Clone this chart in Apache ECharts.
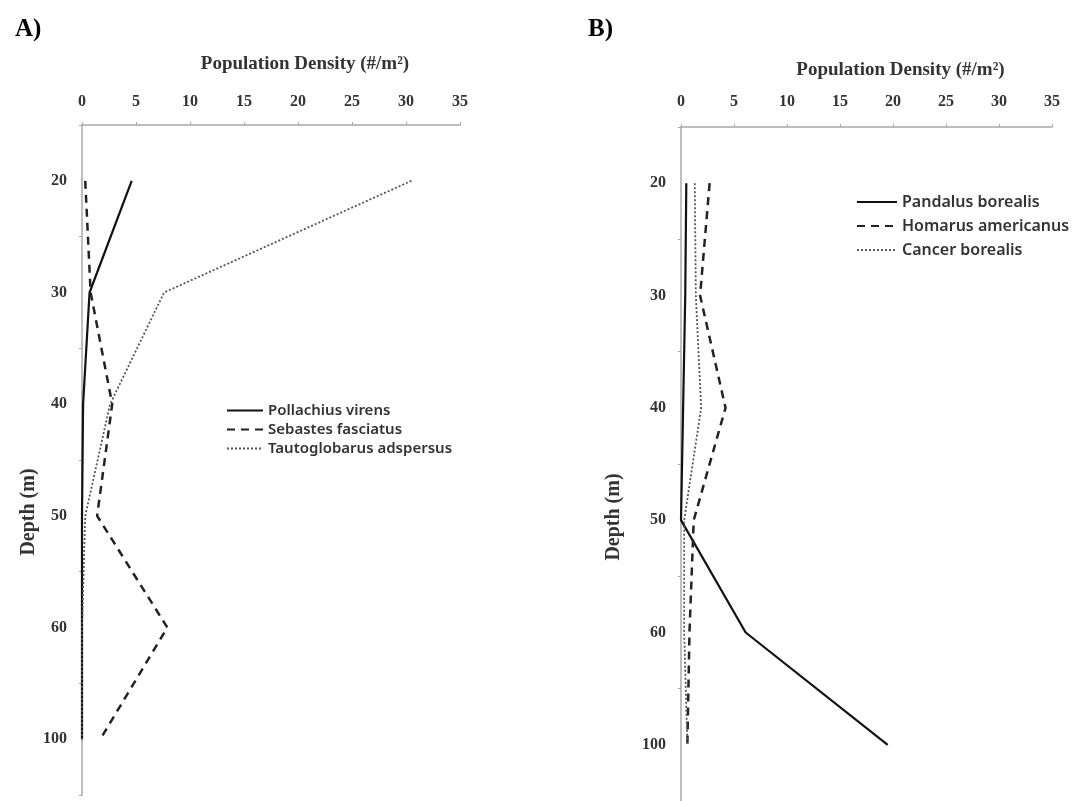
<!DOCTYPE html>
<html>
<head>
<meta charset="utf-8">
<script src="https://cdn.jsdelivr.net/npm/echarts@6/dist/echarts.min.js"></script>
<style>
    html, body { margin: 0; padding: 0; background: #fff; }
    #main { width: 1081px; height: 801px; }
</style>
</head>
<body>
<div id="main"></div>
<script>
// depth categories (m), shared by both panels
var depths = ['20', '30', '40', '50', '60', '100']
var xTicks = [0, 5, 10, 15, 20, 25, 30, 35]

// panel A - fish
var pollachius = [4.6, 0.7, 0.1, 0, 0, 0]
var sebastes = [0.3, 0.8, 2.8, 1.4, 7.9, 1.7]
var tautoglobarus = [30.5, 7.6, 2.6, 0.3, 0, 0]

// panel B - crustaceans
var pandalus = [0.5, 0.4, 0.2, 0, 6.1, 19.5]
var homarus = [2.7, 1.8, 4.2, 1.2, 0.8, 0.6]
var cancer = [1.3, 1.4, 1.9, 0.3, 0.3, 0.6]

var serif = 'Liberation Serif'
var axisGray = '#a8a8a8'
var textCol = '#333'

var myChart = echarts.init(document.getElementById('main'))

function xAxisOpt(gridIndex, gap, labelMargin) {
    return {
        type: 'value',
        gridIndex: gridIndex,
        position: 'top',
        min: xTicks[0],
        max: xTicks[xTicks.length - 1],
        interval: 5,
        name: 'Population Density (#/m²)',
        nameLocation: 'middle',
        nameGap: gap,
        nameTextStyle: {
            fontFamily: serif,
            fontWeight: 'bold',
            fontSize: 19,
            color: textCol,
            padding: [0, 0, 0, 68]
        },
        axisLine: { show: true, lineStyle: { color: axisGray, width: 1.5 } },
        axisTick: { show: true, length: 3, lineStyle: { color: axisGray } },
        axisLabel: {
            margin: labelMargin,
            fontFamily: serif,
            fontWeight: 'bold',
            fontSize: 16,
            color: textCol
        },
        splitLine: { show: false }
    }
}

function yAxisOpt(gridIndex, gap, shift) {
    return {
        type: 'category',
        gridIndex: gridIndex,
        inverse: true,
        data: depths,
        name: 'Depth (m)',
        nameLocation: 'middle',
        nameGap: gap,
        nameRotate: 90,
        nameTextStyle: {
            fontFamily: serif,
            fontWeight: 'bold',
            fontSize: 20,
            color: textCol,
            padding: [0, shift, 0, 0]
        },
        axisLine: { show: true, lineStyle: { color: axisGray, width: 1.5 } },
        axisTick: { show: true, length: 3, lineStyle: { color: axisGray } },
        axisLabel: {
            margin: 15,
            fontFamily: serif,
            fontWeight: 'bold',
            fontSize: 16,
            color: textCol
        },
        splitLine: { show: false }
    }
}

var solid = { color: '#111', width: 2.2, type: 'solid' }
var dashed = { color: '#222', width: 2.5, type: [8, 6] }
var dotted = { color: '#555', width: 1.8, type: [2, 2] }

function lineSeries(name, data, idx, style) {
    return {
        name: name,
        type: 'line',
        xAxisIndex: idx,
        yAxisIndex: idx,
        data: data,
        symbol: 'none',
        smooth: false,
        lineStyle: style,
        itemStyle: { color: style.color }
    }
}

var legendText = {
    fontFamily: 'Noto Sans',
    fontWeight: 600,
    color: textCol
}

var option = {
    animation: false,
    backgroundColor: '#fff',
    title: [
        { text: 'A)', left: 10, top: 12, textStyle: { fontFamily: serif, fontWeight: 'bold', fontSize: 25, color: '#000' } },
        { text: 'B)', left: 583, top: 12, textStyle: { fontFamily: serif, fontWeight: 'bold', fontSize: 25, color: '#000' } }
    ],
    grid: [
        { left: 82, top: 125, width: 378, height: 670 },
        { left: 681, top: 127, width: 371, height: 674 }
    ],
    legend: [
        {
            orient: 'vertical',
            left: 221,
            top: 398,
            itemWidth: 36,
            itemHeight: 14,
            itemGap: 4,
            itemStyle: { opacity: 0 },
            textStyle: Object.assign({ fontSize: 15 }, legendText),
            data: ['Pollachius virens', 'Sebastes fasciatus', 'Tautoglobarus adspersus']
        },
        {
            orient: 'vertical',
            left: 851,
            top: 189,
            itemWidth: 40,
            itemHeight: 16,
            itemGap: 8,
            itemStyle: { opacity: 0 },
            textStyle: Object.assign({ fontSize: 16 }, legendText),
            data: ['Pandalus borealis', 'Homarus americanus', 'Cancer borealis']
        }
    ],
    xAxis: [xAxisOpt(0, 51, 15), xAxisOpt(1, 47, 17)],
    yAxis: [yAxisOpt(0, 38, 104), yAxisOpt(1, 57, 106)],
    series: [
        lineSeries('Pollachius virens', pollachius, 0, solid),
        lineSeries('Sebastes fasciatus', sebastes, 0, dashed),
        lineSeries('Tautoglobarus adspersus', tautoglobarus, 0, dotted),
        lineSeries('Pandalus borealis', pandalus, 1, solid),
        lineSeries('Homarus americanus', homarus, 1, dashed),
        lineSeries('Cancer borealis', cancer, 1, dotted)
    ]
}

myChart.setOption(option)
</script>
</body>
</html>
